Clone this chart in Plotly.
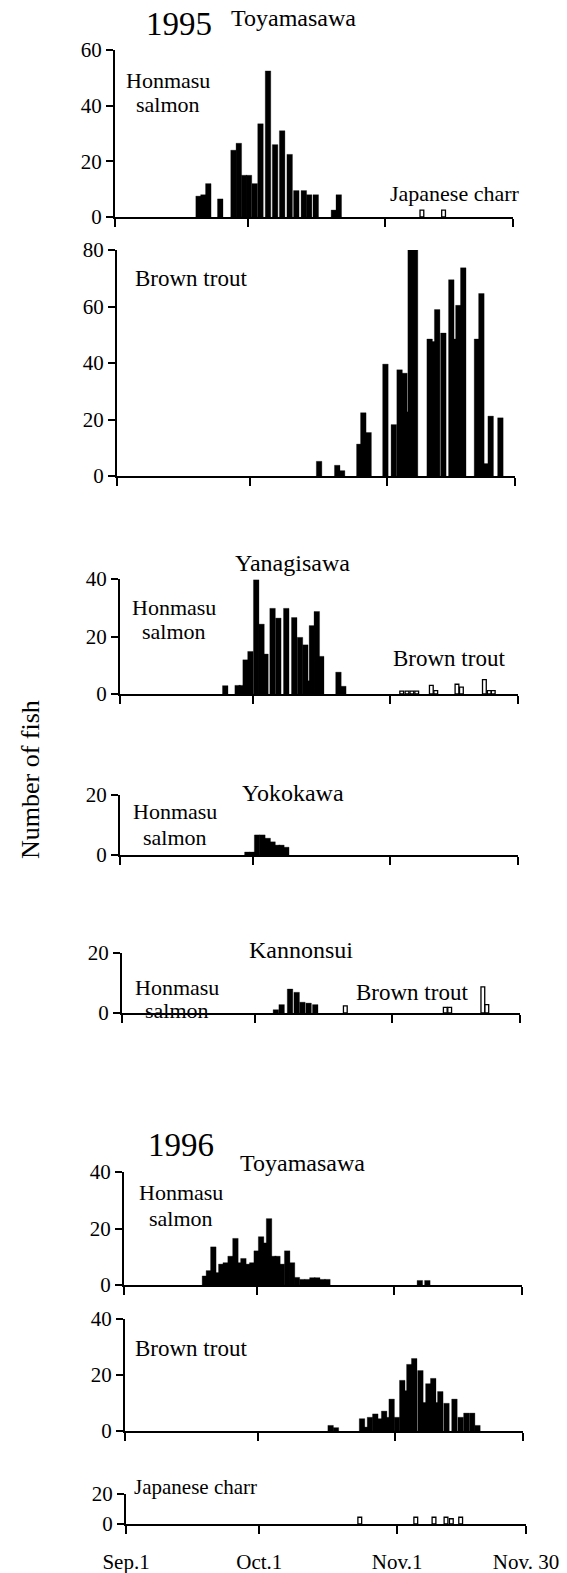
import plotly.graph_objects as go

W, H = 567, 1573
FONT = "Liberation Serif"

# x values: days after Sep. 1 (Oct. 1 = 30, Nov. 1 = 61, Nov. 30 = 90)
tick_days = [0, 30, 61, 90]
tick_text = ["Sep.1", "Oct.1", "Nov.1", "Nov. 30"]

# ---------------- 1995 Toyamasawa ----------------
toy95_honmasu_day = [18.9, 20.0, 21.1, 23.8, 26.8, 28.0, 29.2, 30.3, 31.6, 32.9,
                     34.6, 36.2, 37.8, 39.5, 41.0, 42.7, 43.9, 45.4, 49.5, 50.6]
toy95_honmasu_n = [7.5, 8, 12, 6.5, 24, 26.5, 15, 15, 12, 33.5,
                   52.5, 26, 31, 22.5, 9.5, 9.5, 8, 8, 2.5, 8]
toy95_charr_day = [69.4, 74.3]
toy95_charr_n = [2.5, 2.5]

toy95_brown_day = [45.7, 49.8, 50.9, 54.8, 55.7, 56.9, 60.7, 62.6, 63.9, 65.0,
                   65.8, 66.4, 67.4, 70.7, 71.6, 72.4, 73.8, 75.6, 76.5, 77.2,
                   78.3, 81.4, 82.4, 83.6, 84.5, 86.7]
toy95_brown_n = [5.2, 3.8, 1.9, 11.3, 22.4, 15.4, 39.6, 18.2, 37.6, 36.4,
                 22.7, 80, 80, 48.5, 47.6, 58.9, 50.6, 69.5, 48.5, 60.4,
                 73.7, 48.5, 64.6, 4.4, 21.2, 20.6]

# ---------------- 1995 Yanagisawa ----------------
yan95_honmasu_day = [23.8, 26.6, 27.5, 28.4, 29.5, 30.8, 32.0, 32.9, 34.5, 35.8,
                     37.6, 39.4, 40.7, 41.9, 42.8, 43.4, 44.5, 45.5, 49.4, 50.5]
yan95_honmasu_n = [2.9, 3, 3, 11.9, 14.8, 39.7, 24.3, 13.9, 29.8, 26.4,
                   29.8, 26.6, 19.7, 17.1, 4.6, 23.8, 28.7, 13.1, 7.6, 2.7]
yan95_brown_day = [63.7, 64.9, 66.0, 67.1, 70.4, 71.4, 76.2, 77.2, 82.4, 83.5, 84.4]
yan95_brown_n = [1, 1, 1, 1, 3, 1.2, 3.4, 2.4, 5, 1.2, 1.2]

# ---------------- 1995 Yokokawa ----------------
yok95_honmasu_day = [28.8, 29.9, 31.0, 32.2, 33.4, 34.5, 35.6, 36.5, 37.6]
yok95_honmasu_n = [1, 1, 6.7, 6.7, 5.6, 4.4, 3.3, 3.3, 2.6]

# ---------------- 1995 Kannonsui ----------------
kan95_honmasu_day = [34.8, 36.1, 38.0, 39.5, 40.8, 42.2, 43.7]
kan95_honmasu_n = [1.1, 2.8, 8, 6.9, 3.6, 3.3, 2.8]
kan95_brown_day = [50.5, 73.1, 74.1, 81.6, 82.5]
kan95_brown_n = [2.4, 1.9, 1.9, 8.7, 2.8]

# ---------------- 1996 Toyamasawa ----------------
toy96_honmasu_day = [18.3, 19.2, 20.2, 21.2, 22.0, 23.0, 24.1, 25.2, 26.1, 27.0,
                     28.0, 29.0, 30.0, 31.0, 31.8, 32.8, 33.8, 34.7, 35.7, 36.9,
                     38.0, 39.1, 40.3, 41.5, 42.6, 43.7, 44.9, 46.0, 66.9, 68.6]
toy96_honmasu_n = [3.2, 5.1, 13.5, 4.4, 7.4, 7.9, 10.2, 16.5, 7.9, 9.4,
                   7.4, 7.9, 12.1, 17.1, 14.9, 23.5, 10.2, 10.2, 7.4, 12.1,
                   7.9, 2.7, 2, 2, 2.6, 2.6, 2, 2, 1.6, 1.6]
toy96_brown_day = [46.5, 47.7, 53.6, 54.5, 55.4, 56.6, 57.6, 58.6, 59.6, 60.3,
                   61.5, 62.7, 63.6, 64.3, 65.4, 66.8, 67.7, 68.6, 69.7, 70.5,
                   71.3, 72.7, 74.5, 75.9, 77.2, 78.5, 79.7]
toy96_brown_n = [2, 1.2, 4.4, 1.4, 4.9, 6.1, 4.4, 7.1, 4.9, 11.4,
                 4.9, 18.1, 14.4, 23.8, 25.9, 21.6, 10.2, 16.9, 18.8, 10.2,
                 14.1, 9.9, 11.4, 4.9, 6.4, 6.4, 2]
toy96_charr_day = [52.6, 65.2, 69.3, 72.0, 73.2, 75.3]
toy96_charr_n = [4.5, 4.5, 4.5, 4.5, 3.5, 4.5]

# panel geometry (pixels): x of Sep.1, x of Nov.30, y of 0, y of axis top
panels = [
    dict(x0=115, x1=513, y0=217, y1=50, ymax=60, yt=[0, 20, 40, 60]),
    dict(x0=117, x1=515, y0=476, y1=250, ymax=80, yt=[0, 20, 40, 60, 80]),
    dict(x0=120, x1=518, y0=694, y1=579, ymax=40, yt=[0, 20, 40]),
    dict(x0=120, x1=518, y0=855, y1=795, ymax=20, yt=[0, 20]),
    dict(x0=122, x1=520, y0=1013, y1=953, ymax=20, yt=[0, 20]),
    dict(x0=124, x1=522, y0=1285, y1=1172, ymax=40, yt=[0, 20, 40]),
    dict(x0=125, x1=523, y0=1431, y1=1319, ymax=40, yt=[0, 20, 40]),
    dict(x0=126, x1=526, y0=1524, y1=1494, ymax=20, yt=[0, 20]),
]

series = [
    (1, toy95_honmasu_day, toy95_honmasu_n, True),
    (1, toy95_charr_day, toy95_charr_n, False),
    (2, toy95_brown_day, toy95_brown_n, True),
    (3, yan95_honmasu_day, yan95_honmasu_n, True),
    (3, yan95_brown_day, yan95_brown_n, False),
    (4, yok95_honmasu_day, yok95_honmasu_n, True),
    (5, kan95_honmasu_day, kan95_honmasu_n, True),
    (5, kan95_brown_day, kan95_brown_n, False),
    (6, toy96_honmasu_day, toy96_honmasu_n, True),
    (7, toy96_brown_day, toy96_brown_n, True),
    (8, toy96_charr_day, toy96_charr_n, False),
]

fig = go.Figure()
for idx, days, counts, filled in series:
    sfx = "" if idx == 1 else str(idx)
    if filled:
        marker = dict(color="black", line=dict(color="black", width=0.3))
        width = 1.25
    else:
        marker = dict(color="white", line=dict(color="black", width=1.3))
        width = 0.85
    fig.add_trace(go.Bar(x=days, y=counts, width=width, marker=marker,
                         xaxis="x" + sfx, yaxis="y" + sfx, showlegend=False))

layout = dict(
    width=W, height=H, margin=dict(l=0, r=0, t=0, b=0, autoexpand=False),
    paper_bgcolor="white", plot_bgcolor="rgba(0,0,0,0)",
    barmode="overlay", showlegend=False,
    font=dict(family=FONT, color="black"),
)
for i, p in enumerate(panels, start=1):
    sfx = "" if i == 1 else str(i)
    last = (i == len(panels))
    layout["xaxis" + sfx] = dict(
        domain=[p["x0"] / W, p["x1"] / W], range=[0, 90], automargin=False,
        anchor="y" + sfx, showline=True, linecolor="black", linewidth=2,
        ticks="outside", ticklen=8, tickwidth=2, tickcolor="black",
        tickvals=tick_days, ticktext=tick_text, showticklabels=last,
        tickfont=dict(family=FONT, size=21, color="black"),
        ticklabelstandoff=10,
        showgrid=False, zeroline=False, fixedrange=True,
    )
    layout["yaxis" + sfx] = dict(
        domain=[1 - p["y0"] / H, 1 - p["y1"] / H], range=[0, p["ymax"]],
        automargin=False,
        anchor="x" + sfx, showline=True, linecolor="black", linewidth=2,
        ticks="outside", ticklen=7, tickwidth=2, tickcolor="black",
        tickvals=p["yt"], tickfont=dict(family=FONT, size=21, color="black"),
        showgrid=False, zeroline=False, fixedrange=True,
    )


def ann(text, x, y, size, angle=0):
    return dict(text=text, x=x / W, y=1 - y / H, xref="paper", yref="paper",
                xanchor="center", yanchor="middle", showarrow=False,
                textangle=angle, font=dict(family=FONT, size=size, color="black"))


layout["annotations"] = [
    ann("1995", 179, 24, 33),
    ann("Toyamasawa", 293, 18, 24),
    ann("Honmasu", 168, 80, 22), ann("salmon", 168, 104, 22),
    ann("Japanese charr", 455, 193, 22),
    ann("Brown trout", 191, 278, 23),
    ann("Yanagisawa", 292, 563, 24),
    ann("Honmasu", 174, 607, 22), ann("salmon", 174, 631, 22),
    ann("Brown trout", 449, 658, 23),
    ann("Yokokawa", 293, 793, 24),
    ann("Honmasu", 175, 811, 22), ann("salmon", 175, 837, 22),
    ann("Kannonsui", 301, 950, 24),
    ann("Honmasu", 177, 987, 22), ann("salmon", 177, 1010, 22),
    ann("Brown trout", 412, 992, 23),
    ann("1996", 181, 1145, 33),
    ann("Toyamasawa", 302, 1163, 24),
    ann("Honmasu", 181, 1192, 22), ann("salmon", 181, 1218, 22),
    ann("Brown trout", 191, 1348, 23),
    ann("Japanese charr", 195, 1487, 21),
    ann("Number of fish", 30, 780, 26, angle=-90),
]

fig.update_layout(**layout)
fig.write_html("out.html")
